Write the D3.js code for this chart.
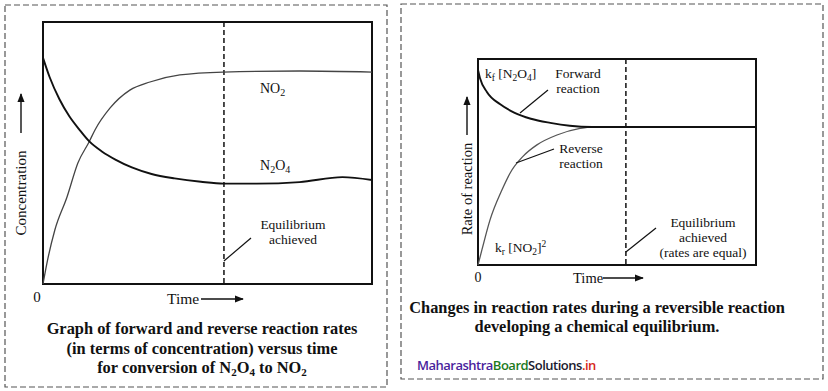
<!DOCTYPE html>
<html>
<head>
<meta charset="utf-8">
<script src="https://cdn.jsdelivr.net/npm/d3@7"></script>
<style>
  body { margin: 0; background: #fff; }
  svg text { font-family: "Liberation Serif", "DejaVu Serif", "Times New Roman", Times, serif; fill: #111; }
</style>
</head>
<body>
<div id="chart"></div>
<script>
// Overall canvas
const width = 828;
const height = 391;

// Left graph data: concentration vs time (time 0-100, concentration 0-100)
const no2Time = [0, 1.2, 3.6, 7.3, 10.6, 14.0, 15.8, 20.4, 26.4, 32.5, 41.6, 54.7, 78.1, 100];
const no2Conc = [0, 8.0, 20.6, 33.2, 46.2, 54.2, 58.8, 67.2, 74.0, 77.1, 79.8, 80.9, 81.3, 80.9];
const n2o4Time = [0, 2, 5, 8, 11, 14, 18, 22, 27, 33, 40, 48, 55, 65, 78, 91, 100];
const n2o4Conc = [86.3, 79, 70.5, 64, 59, 54.5, 50.5, 47.5, 44.5, 42, 40.3, 39, 38.3, 38.3, 38.9, 40.8, 39.7];
const equilibriumLeft = 55;

// Right graph data: rate of reaction vs time
const fwdTime = [0, 0.7, 3.2, 8.0, 13.0, 19.0, 26.0, 33.0, 41.0, 60, 80, 100];
const fwdRate = [94.7, 90.8, 84.0, 78.0, 74.0, 71.0, 69.0, 67.6, 67.0, 67.0, 67.0, 67.0];
const revTime = [0, 1.4, 4.3, 8.6, 12.2, 16.0, 21.2, 28.4, 36.7, 41.0, 60, 80, 100];
const revRate = [0, 7.3, 21.8, 36.4, 46.1, 52.5, 58.3, 63.1, 66.3, 67.0, 67.0, 67.0, 67.0];
const equilibriumRight = 53.2;

const svg = d3.select("#chart")
  .append("svg")
  .attr("width", width)
  .attr("height", height)
  .attr("font-family", "'Liberation Serif', 'DejaVu Serif', serif");

// arrow head marker
svg.append("defs").append("marker")
  .attr("id", "arrow")
  .attr("viewBox", "0 0 10 10")
  .attr("refX", 9).attr("refY", 5)
  .attr("markerWidth", 9).attr("markerHeight", 9)
  .attr("markerUnits", "userSpaceOnUse")
  .attr("orient", "auto")
  .append("path")
  .attr("d", "M0,1 L10,5 L0,9 Z")
  .attr("fill", "#111");

// dashed panel borders
svg.append("rect")
  .attr("x", 5).attr("y", 5).attr("width", 382).attr("height", 382)
  .attr("fill", "none").attr("stroke", "#555").attr("stroke-width", 1.2)
  .attr("stroke-dasharray", "6,3");
svg.append("rect")
  .attr("x", 401).attr("y", 4).attr("width", 422).attr("height", 375)
  .attr("fill", "none").attr("stroke", "#555").attr("stroke-width", 1.2)
  .attr("stroke-dasharray", "6,3");

function addPointer(x1, y1, x2, y2) {
  svg.append("line")
    .attr("x1", x1).attr("y1", y1).attr("x2", x2).attr("y2", y2)
    .attr("stroke", "#111").attr("stroke-width", 1.2);
}

function addArrow(x1, y1, x2, y2) {
  svg.append("line")
    .attr("x1", x1).attr("y1", y1).attr("x2", x2).attr("y2", y2)
    .attr("stroke", "#111").attr("stroke-width", 1.4)
    .attr("marker-end", "url(#arrow)");
}

// ---------- LEFT GRAPH ----------
const box1 = {left: 43, right: 372, top: 22, bottom: 284};

let xScale1 = d3.scaleLinear().domain([0, 100]).range([box1.left, box1.right]);
let yScale1 = d3.scaleLinear().domain([0, 100]).range([box1.bottom, box1.top]);

const line1 = d3.line()
  .x(d => xScale1(d[0]))
  .y(d => yScale1(d[1]))
  .curve(d3.curveMonotoneX);

svg.append("rect")
  .attr("x", box1.left).attr("y", box1.top)
  .attr("width", box1.right - box1.left).attr("height", box1.bottom - box1.top)
  .attr("fill", "none").attr("stroke", "#111").attr("stroke-width", 2);

svg.append("line")
  .attr("x1", xScale1(equilibriumLeft)).attr("x2", xScale1(equilibriumLeft))
  .attr("y1", yScale1(100)).attr("y2", yScale1(0))
  .attr("stroke", "#111").attr("stroke-width", 1.5).attr("stroke-dasharray", "5,3");

svg.append("path")
  .datum(d3.zip(no2Time, no2Conc))
  .attr("d", line1)
  .attr("fill", "none").attr("stroke", "#444").attr("stroke-width", 1.3);

svg.append("path")
  .datum(d3.zip(n2o4Time, n2o4Conc))
  .attr("d", line1)
  .attr("fill", "none").attr("stroke", "#111").attr("stroke-width", 1.9);

// curve labels
let t = svg.append("text").attr("x", 260).attr("y", 93).attr("font-size", 14);
t.append("tspan").text("NO");
t.append("tspan").attr("font-size", 10).attr("dy", 3).text("2");

t = svg.append("text").attr("x", 260).attr("y", 170).attr("font-size", 14);
t.append("tspan").text("N");
t.append("tspan").attr("font-size", 10).attr("dy", 3).text("2");
t.append("tspan").attr("dy", -3).text("O");
t.append("tspan").attr("font-size", 10).attr("dy", 3).text("4");

svg.append("text").attr("x", 293).attr("y", 229).attr("font-size", 13.5)
  .attr("text-anchor", "middle").text("Equilibrium");
svg.append("text").attr("x", 293).attr("y", 244).attr("font-size", 13.5)
  .attr("text-anchor", "middle").text("achieved");
addPointer(xScale1(equilibriumLeft), 261, 251, 238);

// axis labels
svg.append("text").attr("x", 37).attr("y", 302).attr("font-size", 15)
  .attr("text-anchor", "middle").text("0");
svg.append("text").attr("x", 167).attr("y", 304).attr("font-size", 15.5).text("Time");
addArrow(201, 299, 243, 299);

svg.append("text")
  .attr("transform", "translate(26,193) rotate(-90)")
  .attr("font-size", 15).attr("text-anchor", "middle").text("Concentration");
addArrow(21, 133, 21, 94);

// caption
const cap1 = ["Graph of forward and reverse reaction rates",
              "(in terms of concentration) versus time"];
cap1.forEach((s, i) => {
  svg.append("text").attr("x", 202).attr("y", 334 + i * 19.5)
    .attr("font-size", 16.4).attr("font-weight", "bold")
    .attr("text-anchor", "middle").text(s);
});
t = svg.append("text").attr("x", 202).attr("y", 373)
  .attr("font-size", 16.4).attr("font-weight", "bold").attr("text-anchor", "middle");
t.append("tspan").text("for conversion of N");
t.append("tspan").attr("font-size", 11).attr("dy", 3).text("2");
t.append("tspan").attr("dy", -3).text("O");
t.append("tspan").attr("font-size", 11).attr("dy", 3).text("4");
t.append("tspan").attr("dy", -3).text(" to NO");
t.append("tspan").attr("font-size", 11).attr("dy", 3).text("2");

// ---------- RIGHT GRAPH ----------
const box2 = {left: 478, right: 756, top: 59, bottom: 265};

let xScale2 = d3.scaleLinear().domain([0, 100]).range([box2.left, box2.right]);
let yScale2 = d3.scaleLinear().domain([0, 100]).range([box2.bottom, box2.top]);

const line2 = d3.line()
  .x(d => xScale2(d[0]))
  .y(d => yScale2(d[1]))
  .curve(d3.curveMonotoneX);

svg.append("rect")
  .attr("x", box2.left).attr("y", box2.top)
  .attr("width", box2.right - box2.left).attr("height", box2.bottom - box2.top)
  .attr("fill", "none").attr("stroke", "#111").attr("stroke-width", 2);

svg.append("line")
  .attr("x1", xScale2(equilibriumRight)).attr("x2", xScale2(equilibriumRight))
  .attr("y1", yScale2(100)).attr("y2", yScale2(0))
  .attr("stroke", "#111").attr("stroke-width", 1.5).attr("stroke-dasharray", "5,3");

svg.append("path")
  .datum(d3.zip(revTime, revRate))
  .attr("d", line2)
  .attr("fill", "none").attr("stroke", "#555").attr("stroke-width", 1.3);

svg.append("path")
  .datum(d3.zip(fwdTime, fwdRate))
  .attr("d", line2)
  .attr("fill", "none").attr("stroke", "#111").attr("stroke-width", 1.9);

// labels
t = svg.append("text").attr("x", 485).attr("y", 78).attr("font-size", 13.5);
t.append("tspan").text("k");
t.append("tspan").attr("font-size", 9.5).attr("dy", 3).text("f");
t.append("tspan").attr("dy", -3).text(" [N");
t.append("tspan").attr("font-size", 9.5).attr("dy", 3).text("2");
t.append("tspan").attr("dy", -3).text("O");
t.append("tspan").attr("font-size", 9.5).attr("dy", 3).text("4");
t.append("tspan").attr("dy", -3).text("]");

svg.append("text").attr("x", 578).attr("y", 78).attr("font-size", 13.5)
  .attr("text-anchor", "middle").text("Forward");
svg.append("text").attr("x", 578).attr("y", 93).attr("font-size", 13.5)
  .attr("text-anchor", "middle").text("reaction");
addPointer(520, 113, 548, 90);

svg.append("text").attr("x", 581).attr("y", 153).attr("font-size", 13.5)
  .attr("text-anchor", "middle").text("Reverse");
svg.append("text").attr("x", 581).attr("y", 168).attr("font-size", 13.5)
  .attr("text-anchor", "middle").text("reaction");
addPointer(516, 163, 554, 149);

t = svg.append("text").attr("x", 495).attr("y", 252).attr("font-size", 13.5);
t.append("tspan").text("k");
t.append("tspan").attr("font-size", 9.5).attr("dy", 3).text("r");
t.append("tspan").attr("dy", -3).text(" [NO");
t.append("tspan").attr("font-size", 9.5).attr("dy", 3).text("2");
t.append("tspan").attr("dy", -3).text("]");
t.append("tspan").attr("font-size", 9.5).attr("dy", -5).text("2");

const eqRight = ["Equilibrium", "achieved", "(rates are equal)"];
eqRight.forEach((s, i) => {
  svg.append("text").attr("x", 703).attr("y", 227 + i * 15).attr("font-size", 13.5)
    .attr("text-anchor", "middle").text(s);
});
addPointer(xScale2(equilibriumRight), 252, 656, 228);

svg.append("text").attr("x", 478).attr("y", 282).attr("font-size", 14)
  .attr("text-anchor", "middle").text("0");
svg.append("text").attr("x", 573).attr("y", 283).attr("font-size", 14.5).text("Time");
addArrow(603, 278, 643, 278);

svg.append("text")
  .attr("transform", "translate(472,189) rotate(-90)")
  .attr("font-size", 14.5).attr("text-anchor", "middle").text("Rate of reaction");
addArrow(467, 135, 467, 97);

const cap2 = ["Changes in reaction rates during a reversible reaction",
              "developing a chemical equilibrium."];
cap2.forEach((s, i) => {
  svg.append("text").attr("x", 597).attr("y", 313 + i * 19)
    .attr("font-size", 16.4).attr("font-weight", "bold")
    .attr("text-anchor", "middle").text(s);
});

// watermark
const wm = svg.append("text").attr("x", 417).attr("y", 370)
  .attr("font-size", 13).attr("font-weight", 600).attr("letter-spacing", -0.5)
  .style("font-family", "'Open Sans', sans-serif");
wm.append("tspan").style("fill", "#4a1f9c").text("Maharashtra");
wm.append("tspan").style("fill", "#1d7a1d").text("Board");
wm.append("tspan").style("fill", "#1a1a2e").text("Solutions");
wm.append("tspan").style("fill", "#d62718").text(".in");
</script>
</body>
</html>
